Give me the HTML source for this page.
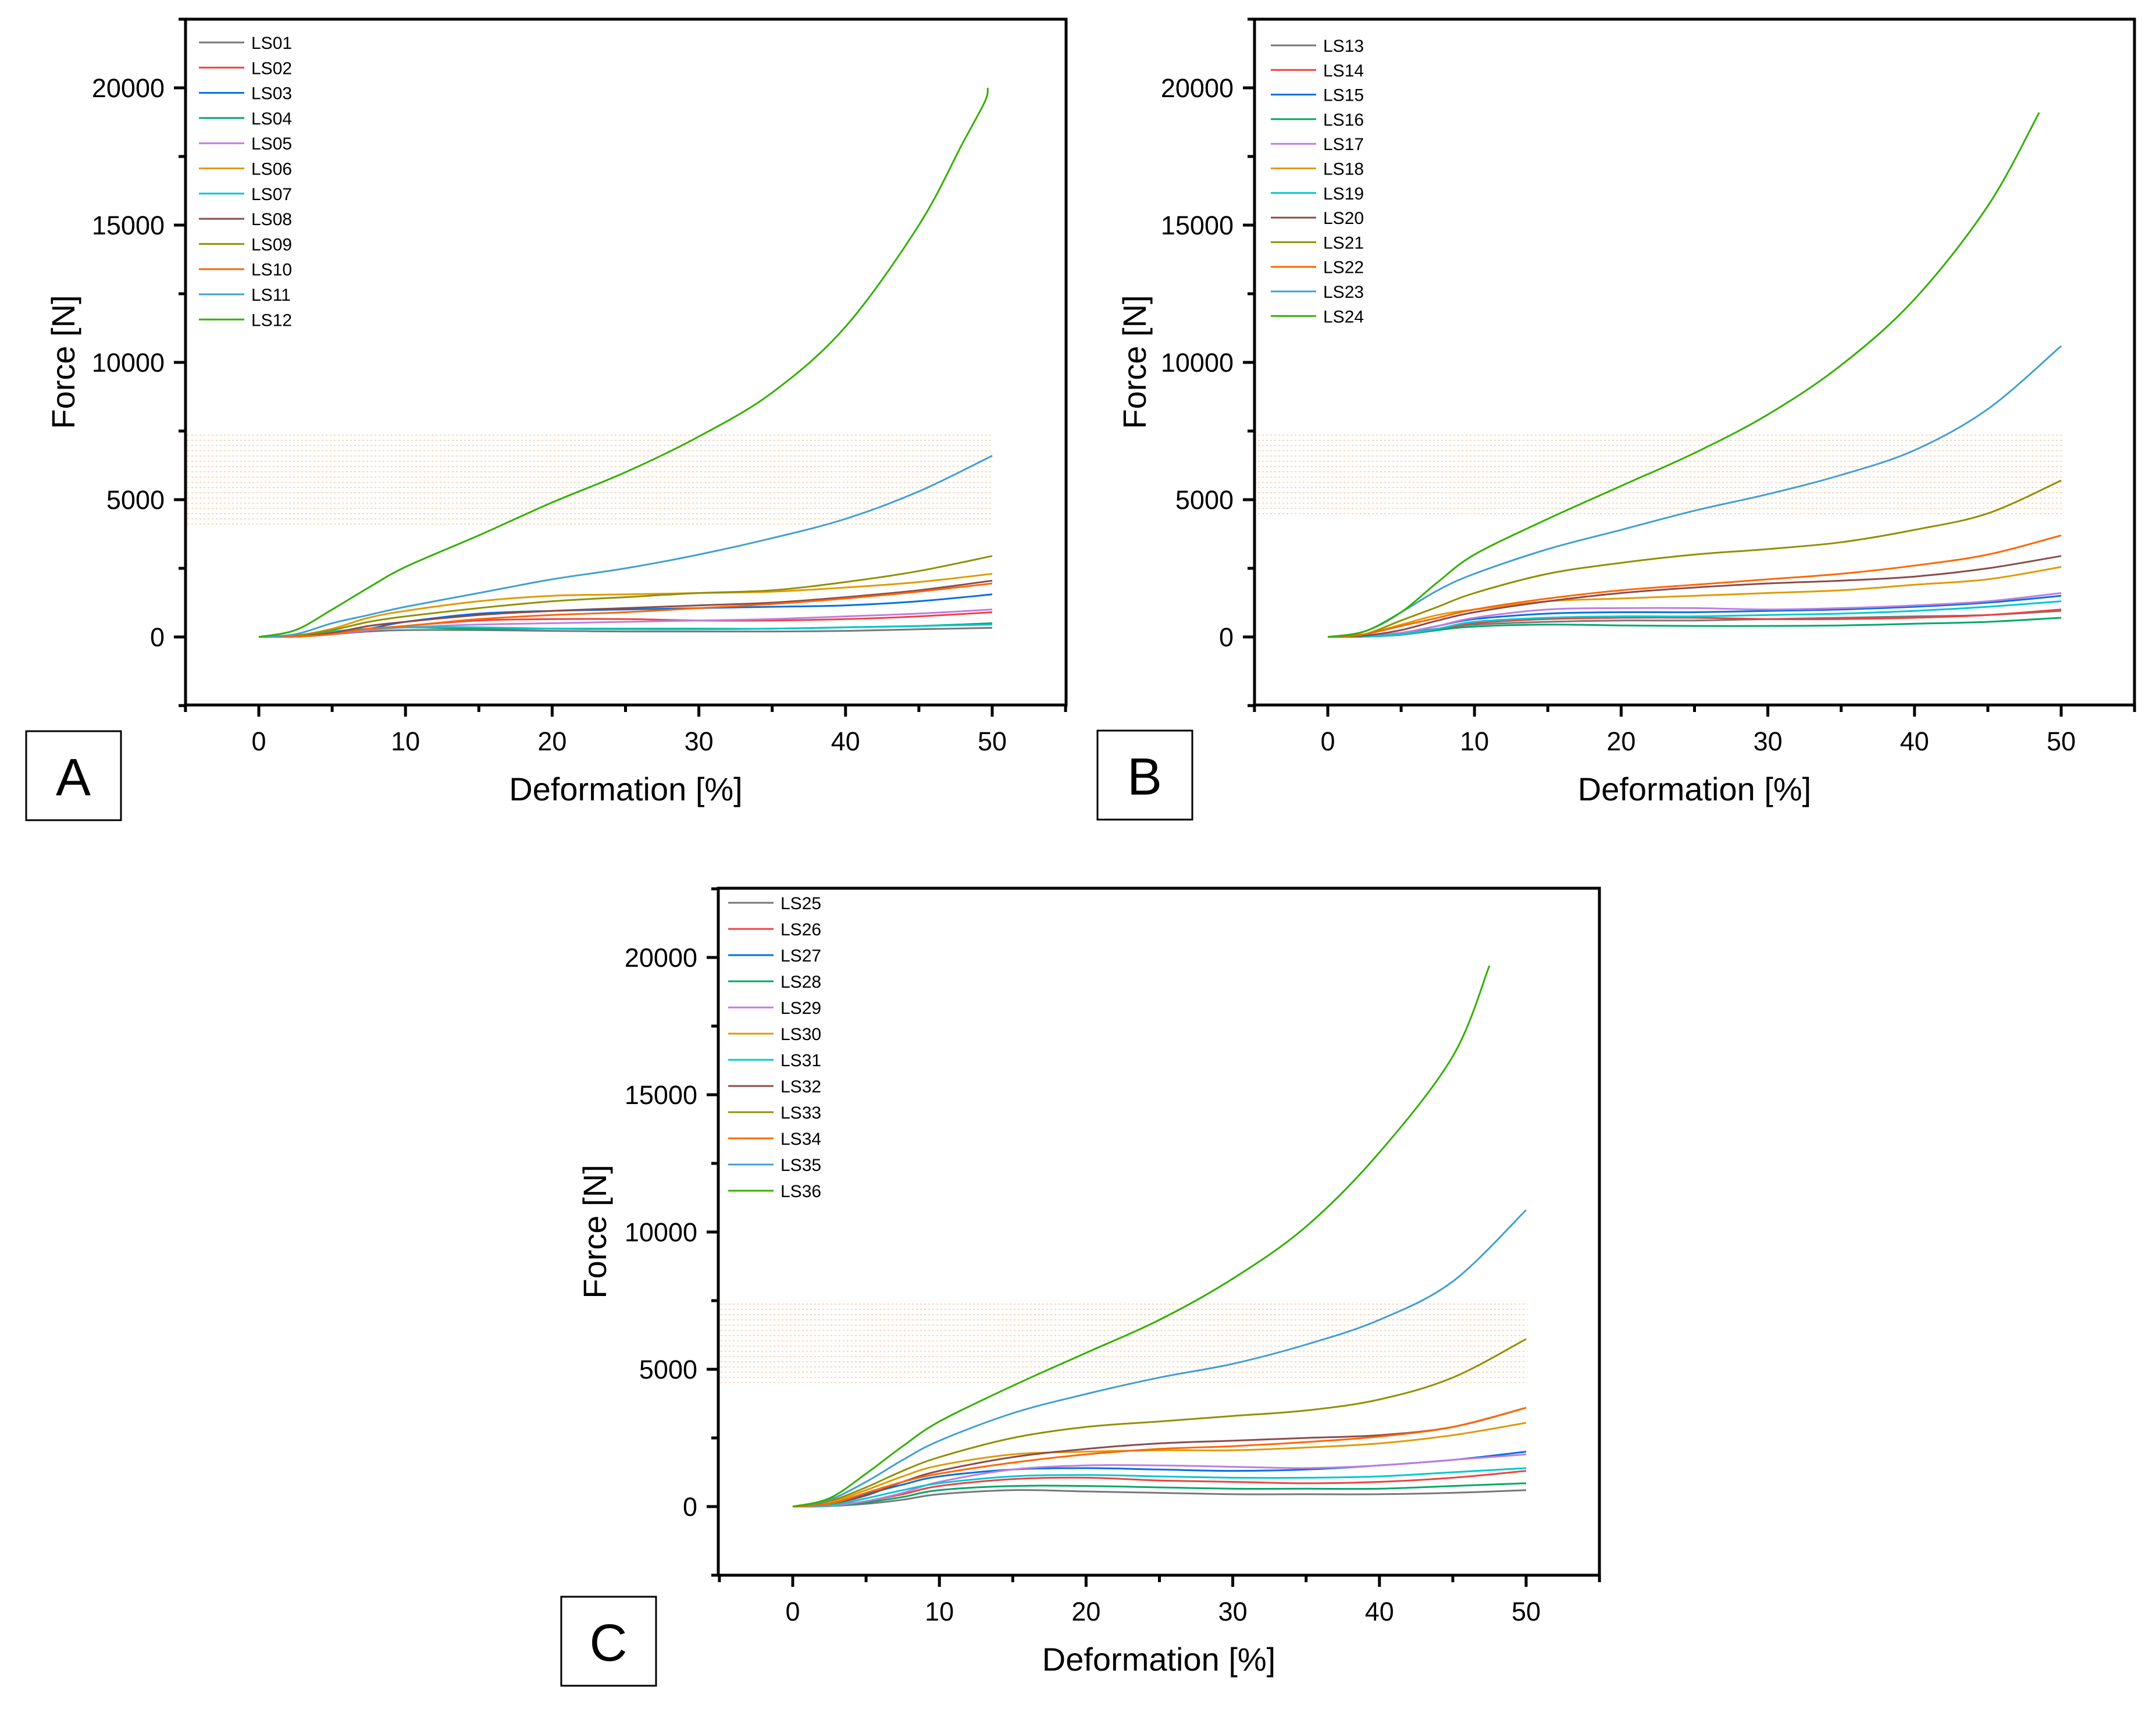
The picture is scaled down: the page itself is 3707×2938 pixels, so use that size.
<!DOCTYPE html>
<html><head><meta charset="utf-8">
<style>
html,body{margin:0;padding:0;background:#fff;}
svg{display:block;font-family:"Liberation Sans",Arial,sans-serif;}
</style></head>
<body>
<svg id="chart" width="3707" height="2938" viewBox="0 0 3707 2938" xmlns="http://www.w3.org/2000/svg">
<defs>
<pattern id="dots" width="7" height="9" patternUnits="userSpaceOnUse">
<rect width="7" height="9" fill="#fff"/>
<rect x="0" y="0" width="3" height="2" fill="#f6b27c"/>
</pattern>
</defs>
</svg>
<script>
// ---- data ----
const xStd = [0,2.5,5,7.5,10,15,20,25,30,35,40,45,50];
const namesA = ["LS01","LS02","LS03","LS04","LS05","LS06","LS07","LS08","LS09","LS10","LS11","LS12"];
const namesB = ["LS13","LS14","LS15","LS16","LS17","LS18","LS19","LS20","LS21","LS22","LS23","LS24"];
const namesC = ["LS25","LS26","LS27","LS28","LS29","LS30","LS31","LS32","LS33","LS34","LS35","LS36"];
const colors = ["#777777","#f04040","#0070e0","#00a868","#c07ce0","#e09a00","#00c8d0","#8b4a4a","#909000","#ff6600","#40a0d0","#33b000"];
const xGreenA = [0,2.5,5,7.5,10,15,20,25,30,35,40,45,48,49.5,49.7];
const xGreenB = [0,2.5,5,7.5,10,15,20,25,30,35,40,45,48.5];
const xGreenC = [0,2.5,5,7.5,10,15,20,25,30,35,40,45,47.5];
const valsA = [
 [0,20,100,200,250,250,220,200,200,200,220,280,330],
 [0,10,100,250,400,600,650,650,600,600,650,750,900],
 [0,10,100,300,550,850,950,1000,1050,1100,1150,1300,1550],
 [0,30,150,300,350,300,300,300,300,300,350,400,500],
 [0,10,100,250,350,450,500,550,600,650,750,850,1000],
 [0,50,300,700,950,1300,1500,1550,1600,1650,1800,2000,2300],
 [0,40,200,300,350,350,300,280,280,300,350,400,450],
 [0,20,150,400,550,800,950,1050,1150,1250,1450,1700,2050],
 [0,50,250,550,750,1050,1300,1450,1600,1700,2000,2400,2950],
 [0,10,100,300,400,650,800,900,1050,1200,1400,1650,1950],
 [0,100,500,800,1100,1600,2100,2500,3000,3600,4300,5300,6600],
 [0,250,1000,1800,2550,3700,4900,6000,7300,8900,11300,15000,18000,19500,20000]
];
const valsB = [
 [0,30,150,300,450,550,600,600,650,700,750,800,950],
 [0,10,100,250,500,650,700,700,650,650,700,800,1000],
 [0,20,150,400,650,850,900,900,950,1000,1100,1250,1500],
 [0,10,80,250,380,450,420,400,400,420,480,550,700],
 [0,20,150,400,700,1000,1050,1050,1000,1050,1150,1300,1600],
 [0,100,450,800,1000,1300,1400,1500,1600,1700,1900,2100,2550],
 [0,10,100,300,550,700,750,750,800,850,950,1100,1300],
 [0,50,250,600,900,1300,1600,1800,1950,2050,2200,2500,2950],
 [0,100,600,1100,1600,2300,2700,3000,3200,3450,3900,4500,5700],
 [0,100,400,700,1000,1400,1700,1900,2100,2300,2600,3000,3700],
 [0,200,900,1700,2300,3200,3900,4600,5200,5900,6800,8300,10600],
 [0,200,900,2000,3000,4300,5500,6700,8100,9900,12300,15700,19100]
];
const valsC = [
 [0,20,100,250,450,600,550,500,450,450,450,500,600],
 [0,30,200,450,750,1000,1050,950,900,850,900,1050,1300],
 [0,100,450,800,1100,1350,1400,1350,1300,1350,1500,1700,2000],
 [0,20,150,350,600,750,750,700,650,650,650,750,850],
 [0,30,200,500,900,1350,1500,1500,1450,1400,1500,1700,1900],
 [0,150,600,1100,1500,1900,2000,2050,2050,2150,2300,2600,3050],
 [0,50,300,600,850,1100,1150,1100,1050,1050,1100,1250,1400],
 [0,100,400,900,1300,1800,2100,2300,2400,2500,2600,2900,3600],
 [0,200,700,1300,1800,2500,2900,3100,3300,3500,3900,4700,6100],
 [0,100,500,900,1200,1600,1900,2100,2200,2350,2550,2900,3600],
 [0,250,900,1700,2400,3400,4100,4700,5200,5900,6800,8200,10800],
 [0,300,1200,2200,3100,4400,5600,6800,8300,10200,12900,16400,19700]
];
const xTicks = [0,10,20,30,40,50];
const yTicks = [0,5000,10000,15000,20000];
const bandA = [4000,7500], bandB = [4400,7500], bandC = [4500,7500];

// ---- drawing ----
const svg = document.getElementById('chart');
const NS = "http://www.w3.org/2000/svg";
function mk(tag, attrs, parent){ const e=document.createElementNS(NS,tag); for(const k in attrs) e.setAttribute(k,attrs[k]); (parent||svg).appendChild(e); return e; }

function smoothPath(pts){
  let d = "M"+pts[0][0].toFixed(1)+","+pts[0][1].toFixed(1);
  for(let i=0;i<pts.length-1;i++){
    const p0=pts[Math.max(i-1,0)], p1=pts[i], p2=pts[i+1], p3=pts[Math.min(i+2,pts.length-1)];
    const c1x=p1[0]+(p2[0]-p0[0])/6, c1y=p1[1]+(p2[1]-p0[1])/6;
    const c2x=p2[0]-(p3[0]-p1[0])/6, c2y=p2[1]-(p3[1]-p1[1])/6;
    d+=" C"+c1x.toFixed(1)+","+c1y.toFixed(1)+" "+c2x.toFixed(1)+","+c2y.toFixed(1)+" "+p2[0].toFixed(1)+","+p2[1].toFixed(1);
  }
  return d;
}

function panel(cfg){
  const g = mk('g',{});
  
  
  const L=cfg.left, R=cfg.right, T=cfg.top, B=cfg.bottom;
  const sx = v => cfg.x0 + v*(cfg.x50-cfg.x0)/50;
  const sy = v => cfg.y0 - v*236/5000;
  const band = mk('rect',{x:L+2,y:sy(cfg.band[1]),width:sx(50)-L,height:sy(cfg.band[0])-sy(cfg.band[1]),fill:'url(#dots)',opacity:0.55},g);
  
  
  for(let i=0;i<cfg.vals.length;i++){
    const xs = (i===11)? cfg.xg : xStd;
    const pts = cfg.vals[i].map((v,j)=>[sx(xs[j]), sy(v)]);
    const p = mk('path',{d:smoothPath(pts),fill:'none',stroke:colors[i],'stroke-width':3},g);
    
    
  }
  const fr = mk('rect',{x:L,y:T,width:R-L,height:B-T,fill:'none',stroke:'#000','stroke-width':5},g);
  
  
  for(let v=-5; v<=55; v+=5){
    const major = v%10===0;
    mk('line',{x1:sx(v),x2:sx(v),y1:B,y2:B+(major?20:12),stroke:'#000','stroke-width':5},g);
  }
  xTicks.forEach(v=>{
    const t = mk('text',{x:sx(v),y:B+78,'font-size':45,'text-anchor':'middle',fill:'#000'},g);
    t.textContent = v;
    
    
  });
  for(let v=-2500; v<=22500; v+=2500){
    const y=sy(v); if(y<T-2||y>B+2) continue;
    const major = v%5000===0;
    mk('line',{x1:L,x2:L-(major?20:12),y1:y,y2:y,stroke:'#000','stroke-width':5},g);
  }
  yTicks.forEach(v=>{
    const t = mk('text',{x:L-36,y:sy(v)+16,'font-size':45,'text-anchor':'end',fill:'#000'},g);
    t.textContent = v;
    
    
  });
  const xt = mk('text',{x:(L+R)/2,y:B+164,'font-size':56,'text-anchor':'middle',fill:'#000'},g);
  xt.textContent = 'Deformation [%]';
  
  
  const yt = mk('text',{x:0,y:0,'font-size':56,'text-anchor':'middle',fill:'#000',transform:'translate('+cfg.ytx+','+((T+B)/2)+') rotate(-90)'},g);
  yt.textContent = 'Force [N]';
  
  
  for(let i=0;i<cfg.names.length;i++){
    const y = cfg.legY + i*cfg.legS;
    const le = mk('g',{},g);
    
    
    mk('line',{x1:cfg.legX,x2:cfg.legX+78,y1:y,y2:y,stroke:colors[i],'stroke-width':3},le);
    const t = mk('text',{x:cfg.legX+90,y:y+11,'font-size':30,fill:'#000'},le);
    t.textContent = cfg.names[i];
  }
  const bx = mk('rect',{x:cfg.box[0],y:cfg.box[1],width:163,height:153,fill:'#fff',stroke:'#000','stroke-width':3},g);
  
  
  const bl = mk('text',{x:cfg.box[0]+81,y:cfg.box[1]+110,'font-size':90,'text-anchor':'middle',fill:'#000'},g);
  bl.textContent = cfg.letter;
  
  
}

panel({id:'panel-a',letter:'A',left:319,right:1833,top:33,bottom:1212,x0:445,x50:1706,y0:1095,vals:valsA,names:namesA,xg:xGreenA,band:bandA,legX:342,legY:73,legS:43.3,ytx:128,box:[45,1257]});
panel({id:'panel-b',letter:'B',left:2157,right:3670,top:33,bottom:1212,x0:2283,x50:3544,y0:1095,vals:valsB,names:namesB,xg:xGreenB,band:bandB,legX:2185,legY:78,legS:42.3,ytx:1970,box:[1887,1256]});
panel({id:'panel-c',letter:'C',left:1235,right:2750,top:1527,bottom:2708,x0:1363,x50:2624,y0:2590,vals:valsC,names:namesC,xg:xGreenC,band:bandC,legX:1252,legY:1552,legS:45,ytx:1042,box:[965,2745]});
</script>
</body></html>
